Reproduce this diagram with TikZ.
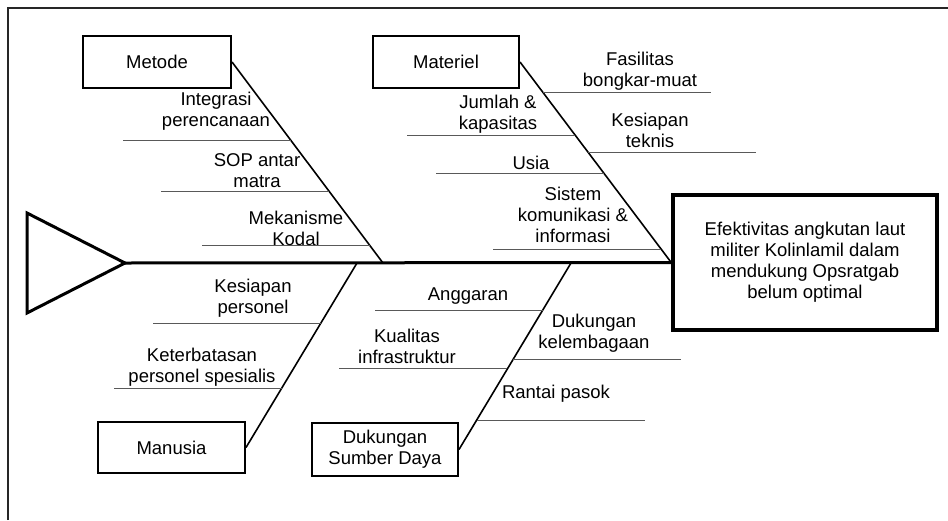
\documentclass[tikz,border=0pt]{standalone}
\usepackage{fontspec}
\setmainfont{Liberation Sans}
\usetikzlibrary{calc}
\begin{document}
\begin{tikzpicture}[x=1pt,y=-1pt,
        kotak/.style={draw,line width=2pt,align=center,inner sep=0pt},
        sebab/.style={align=center,inner sep=0pt},
        tulang/.style={line width=1.6pt},
        ranting/.style={draw=black!65,line width=0.9pt},
        font=\fontsize{18.5}{21}\selectfont]
        \useasboundingbox (0,0) rectangle (948,520);
        % Bingkai
        \draw[line width=1.5pt,black!85] (8,520) -- (8,8) -- (948,8);
        % Kepala dan ekor
        \node[kotak,line width=3.5pt,minimum width=264pt,minimum height=135pt] (akibat) at (805,262.5)
            {Efektivitas angkutan laut\\militer Kolinlamil dalam\\mendukung Opsratgab\\belum optimal};
        \coordinate (ekor) at (125,263);
        \draw[line width=3pt] (27,213) -- (ekor) -- (27,313) -- cycle;
        \draw[line width=3pt] (ekor) -- (akibat.west);
        % Kategori
        \node[kotak,minimum width=148pt,minimum height=52pt] (metode) at (157,62) {Metode};
        \node[kotak,minimum width=146pt,minimum height=52pt] (materiel) at (446,62) {Materiel};
        \node[kotak,minimum width=147pt,minimum height=51pt] (manusia) at (171.5,447.5) {Manusia};
        \node[kotak,minimum width=146pt,minimum height=53pt] (sumberdaya) at (385,449.5) {Dukungan\\Sumber Daya};
        \coordinate (pMetode) at (383,263);
        \coordinate (pManusia) at (357,263);
        \coordinate (pSumber) at (571,263);
        \draw[tulang] (metode.east) -- (pMetode);
        \draw[tulang] (materiel.east) -- (akibat.west);
        \draw[tulang] (manusia.east) -- (pManusia);
        \draw[tulang] (sumberdaya.east) -- (pSumber);
        % Ranting
        \foreach \f in {.388,.642,.915}
            \draw[ranting] ($(metode.east)!\f!(pMetode)$) -- ++(-168,0);
        \foreach \f in {.364,.554,.933}
            \draw[ranting] ($(materiel.east)!\f!(akibat.west)$) -- ++(-168,0);
        \foreach \f in {.15,.449}
            \draw[ranting] ($(materiel.east)!\f!(akibat.west)$) -- ++(168,0);
        \foreach \f in {.675,.3225}
            \draw[ranting] ($(manusia.east)!\f!(pManusia)$) -- ++(-168,0);
        \foreach \f in {.748,.432}
            \draw[ranting] ($(sumberdaya.east)!\f!(pSumber)$) -- ++(-168,0);
        \foreach \f in {.485,.158}
            \draw[ranting] ($(sumberdaya.east)!\f!(pSumber)$) -- ++(168,0);
        % Sebab
        \node[sebab] (integrasi) at (216,111) {Integrasi\\perencanaan};
        \node[sebab] (sop) at (257,171) {SOP antar\\matra};
        \node[sebab] (kodal) at (296,228) {Mekanisme\\Kodal};
        \node[sebab] (jumlah) at (498,114) {Jumlah \&\\kapasitas};
        \node[sebab] (usia) at (531,163) {Usia};
        \node[sebab] (komlek) at (573,215) {Sistem\\komunikasi \&\\informasi};
        \node[sebab] (fasilitas) at (640,71) {Fasilitas\\bongkar-muat};
        \node[sebab] (teknis) at (650,130) {Kesiapan\\teknis};
        \node[sebab] (personel) at (253,298) {Kesiapan\\personel};
        \node[sebab] (spesialis) at (202,367) {Keterbatasan\\personel spesialis};
        \node[sebab] (anggaran) at (468,296) {Anggaran};
        \node[sebab] (infra) at (407,346) {Kualitas\\infrastruktur};
        \node[sebab] (lembaga) at (594,333) {Dukungan\\kelembagaan};
        \node[sebab] (rantai) at (556,394) {Rantai pasok};
    \end{tikzpicture}
\end{document}
